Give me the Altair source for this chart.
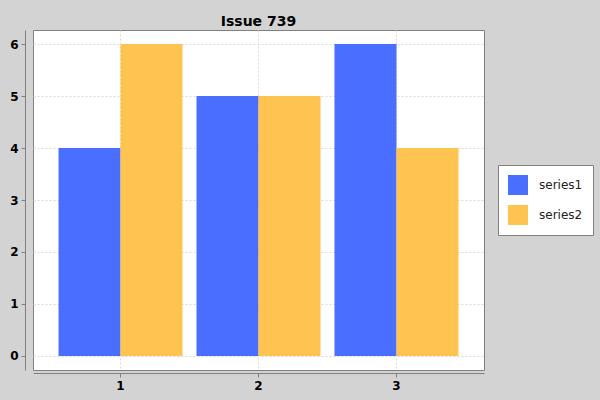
import altair as alt
import pandas as pd

categories = ["1", "2", "3"]
series1 = [4, 5, 6]
series2 = [6, 5, 4]
series_names = ["series1", "series2"]
colors = ["#4A6EFF", "#FFC34F"]

rows = []
for c, a, b in zip(categories, series1, series2):
    rows.append({"category": c, "series": "series1", "value": a})
    rows.append({"category": c, "series": "series2", "value": b})
df = pd.DataFrame(rows)

font = "DejaVu Sans"

chart = alt.Chart(df).mark_bar(opacity=1).encode(
    x=alt.X("category:N", sort=categories, title=None,
            scale=alt.Scale(paddingInner=0.1014, paddingOuter=0.185),
            axis=alt.Axis(labelAngle=0, offset=3, grid=True, bandPosition=0.5,
                          gridDash=[2, 2], gridColor="#d9d9d9", gridWidth=1,
                          domainColor="#808080", tickColor="#808080", tickSize=4,
                          labelFont=font, labelFontSize=12, labelFontWeight="bold",
                          labelColor="#000000", labelPadding=3)),
    xOffset=alt.XOffset("series:N", sort=series_names),
    y=alt.Y("value:Q", title=None,
            scale=alt.Scale(domain=[-0.27, 6.27], nice=False, zero=False),
            axis=alt.Axis(values=[0, 1, 2, 3, 4, 5, 6], offset=8, grid=True,
                          gridDash=[2, 2], gridColor="#d9d9d9", gridWidth=1,
                          domainColor="#808080", tickColor="#808080", tickSize=4,
                          labelFont=font, labelFontSize=12, labelFontWeight="bold",
                          labelColor="#000000", labelPadding=3)),
    color=alt.Color("series:N", sort=series_names, title=None,
                    scale=alt.Scale(domain=series_names, range=colors),
                    legend=alt.Legend(orient="none", legendX=465, legendY=135,
                                      symbolType="square", symbolSize=400,
                                      symbolStrokeWidth=0, symbolOpacity=1,
                                      labelFont=font, labelFontSize=12,
                                      labelColor="#222222", labelOffset=11,
                                      rowPadding=10, padding=10,
                                      strokeColor="#808080", fillColor="#ffffff",
                                      cornerRadius=0)),
).properties(
    width=451,
    height=340,
    title=alt.TitleParams("Issue 739", font=font, fontSize=14, fontWeight="bold",
                          color="#000000", anchor="middle", baseline="alphabetic",
                          offset=4, dy=14),
    autosize=alt.AutoSizeParams(type="none"),
    padding={"left": 33, "top": 30, "right": 116, "bottom": 30},
    background="#d3d3d3",
).configure_view(
    fill="#ffffff",
    stroke="#808080",
    strokeWidth=1,
)

chart.save("out.html", embed_options={"renderer": "svg", "actions": False})
